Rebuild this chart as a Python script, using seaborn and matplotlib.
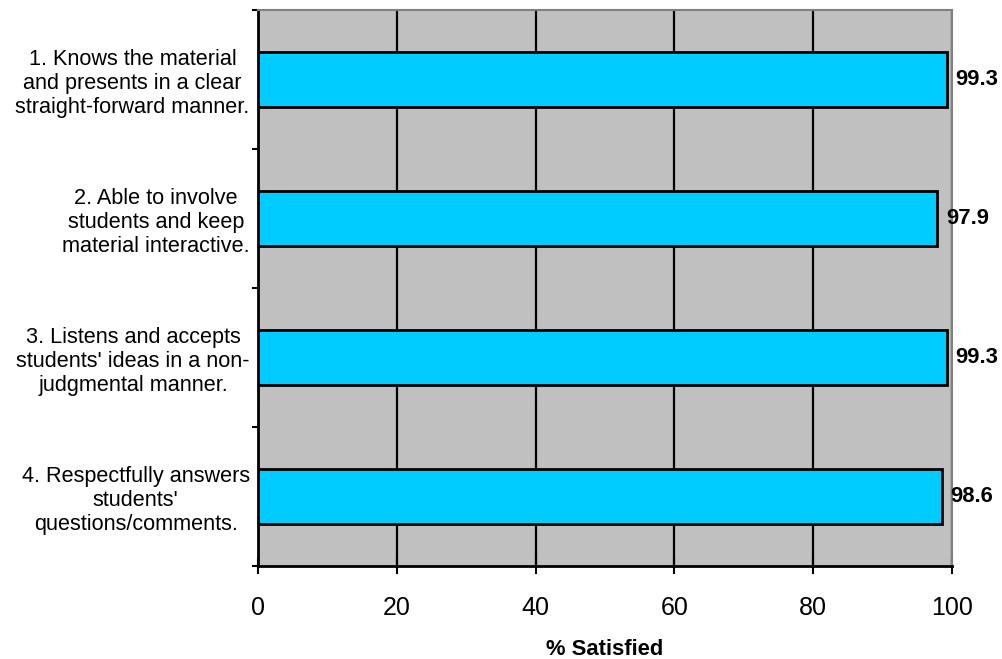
import matplotlib
matplotlib.use("Agg")
import matplotlib.pyplot as plt
from matplotlib.ticker import FixedLocator
import seaborn as sns
import pandas as pd

# Survey items and percentage of respondents satisfied
categories = [
    "1. Knows the material\nand presents in a clear\nstraight-forward manner.",
    "2. Able to involve\nstudents and keep\nmaterial interactive.",
    "3. Listens and accepts\nstudents' ideas in a non-\njudgmental manner.",
    "4. Respectfully answers\nstudents'\nquestions/comments.",
]
satisfied = [99.3, 97.9, 99.3, 98.6]
x_ticks = [0, 20, 40, 60, 80, 100]

sns.set_style("white")
plt.rcParams["font.family"] = ["Liberation Sans", "DejaVu Sans"]
plt.rcParams["text.color"] = "black"
plt.rcParams["axes.labelcolor"] = "black"
plt.rcParams["xtick.color"] = "black"
plt.rcParams["ytick.color"] = "black"

df = pd.DataFrame({"item": categories, "pct": satisfied})

fig = plt.figure(figsize=(10.02, 6.59), dpi=100)
ax = fig.add_axes([258 / 1002, 1 - 566 / 659, (952 - 258) / 1002, (566 - 10) / 659])
ax.set_facecolor("#C0C0C0")

sns.barplot(data=df, x="pct", y="item", orient="h", color="#00CCFF",
            saturation=1, edgecolor="black", linewidth=2, width=0.4, ax=ax)

ax.set_xlim(0, 100)
ax.set_ylim(len(categories) - 0.5, -0.5)
ax.set_xticks(x_ticks)
ax.set_xticklabels([str(t) for t in x_ticks], fontsize=18)

# vertical gridlines behind the bars
ax.set_axisbelow(True)
ax.xaxis.grid(True, color="black", linewidth=1.6)
ax.yaxis.grid(False)

# category labels, centred line by line
ax.set_yticks(range(len(categories)))
ax.set_yticklabels(categories, fontsize=15.6)
for lab in ax.get_yticklabels():
    lab.set_multialignment("center")
ax.tick_params(axis="y", which="major", left=True, length=0, pad=6)
ax.yaxis.set_minor_locator(FixedLocator([i - 0.5 for i in range(len(categories) + 1)]))
ax.tick_params(axis="y", which="minor", left=True, length=4.5, width=1.5,
               color="black", direction="out")
ax.tick_params(axis="x", which="major", bottom=True, length=11, width=1.5,
               color="black", direction="inout", pad=16)

for side in ("left", "bottom"):
    ax.spines[side].set_color("black")
    ax.spines[side].set_linewidth(2)
for side in ("top", "right"):
    ax.spines[side].set_color("#808080")
    ax.spines[side].set_linewidth(1.5)
    ax.spines[side].set_visible(True)

# value labels at the end of each bar
for i, v in enumerate(satisfied):
    ax.annotate(f"{v:.1f}", xy=(v, i), xytext=(6, 0), textcoords="offset points",
                ha="left", va="center", fontsize=15.8, fontweight="bold",
                color="black", annotation_clip=False)

ax.set_ylabel("")
ax.set_xlabel("% Satisfied", fontsize=15.8, fontweight="bold", labelpad=14)

fig.savefig("out.png", dpi=100)
